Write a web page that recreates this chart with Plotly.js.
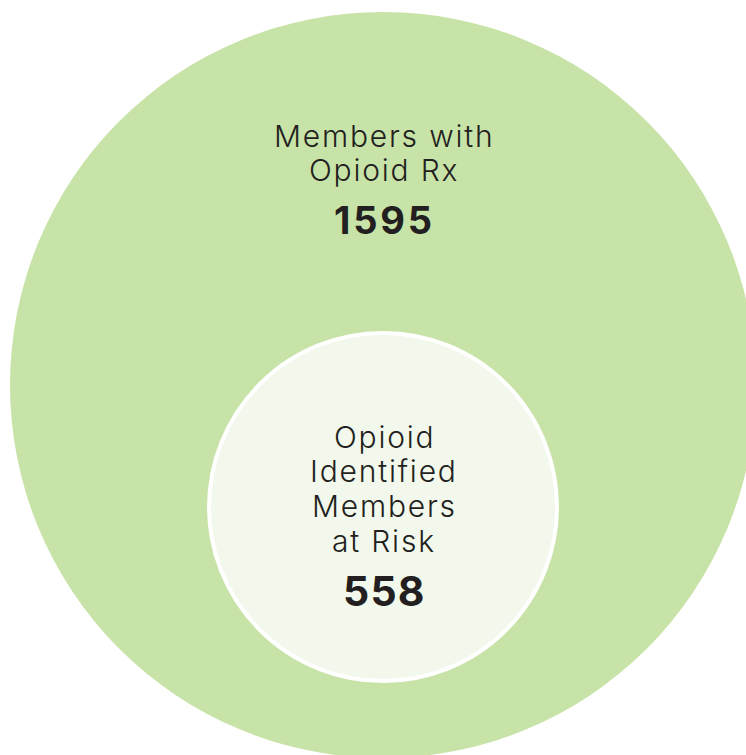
<!DOCTYPE html>
<html>
<head>
<meta charset="utf-8">
<script src="https://cdn.plot.ly/plotly-3.0.1.min.js"></script>
<style>
html,body{margin:0;padding:0;background:#fff;}
#chart{width:746px;height:755px;}
</style>
</head>
<body>
<div id="chart"></div>
<script>
// Data
var groups = ["Members with Opioid Rx", "Opioid Identified Members at Risk"];
var values = [1595, 558];
var outerLines = ["Members with", "Opioid Rx"];
var innerLines = ["Opioid", "Identified", "Members", "at Risk"];

var W = 746, H = 755;
var outer = {cx: 383, cy: 385, r: 373};
var inner = {cx: 383, cy: 507, r: 174};

var fontFam = "Inter, 'Open Sans', sans-serif";
var textColor = "#231f20";

function spaced(t, px){ return '<span style="letter-spacing:' + px + 'px">' + t + '</span>'; }

var annotations = [];
var outerY = [136, 170];
outerLines.forEach(function(t, i){
  annotations.push({x: outer.cx + 1, y: outerY[i], xref: 'x', yref: 'y', text: spaced(t, 1.8), showarrow: false,
    xanchor: 'center', yanchor: 'middle', font: {family: fontFam, size: 30, color: textColor, weight: 300}});
});
annotations.push({x: outer.cx + 1, y: 220, xref: 'x', yref: 'y', text: spaced(String(values[0]), 2.8), showarrow: false,
  xanchor: 'center', yanchor: 'middle', font: {family: fontFam, size: 38, color: textColor, weight: 700}});

var innerY = [437, 471, 506, 541];
innerLines.forEach(function(t, i){
  annotations.push({x: inner.cx + 1, y: innerY[i], xref: 'x', yref: 'y', text: spaced(t, 1.8), showarrow: false,
    xanchor: 'center', yanchor: 'middle', font: {family: fontFam, size: 30, color: textColor, weight: 300}});
});
annotations.push({x: inner.cx + 1, y: 591, xref: 'x', yref: 'y', text: spaced(String(values[1]), 1.2), showarrow: false,
  xanchor: 'center', yanchor: 'middle', font: {family: fontFam, size: 41, color: textColor, weight: 700}});

var layout = {
  width: W, height: H,
  margin: {l: 0, r: 0, t: 0, b: 0},
  paper_bgcolor: '#ffffff', plot_bgcolor: '#ffffff',
  showlegend: false,
  xaxis: {range: [0, W], visible: false, fixedrange: true},
  yaxis: {range: [H, 0], visible: false, fixedrange: true},
  shapes: [
    {type: 'circle', xref: 'x', yref: 'y', x0: outer.cx - outer.r, x1: outer.cx + outer.r,
     y0: outer.cy - outer.r, y1: outer.cy + outer.r, fillcolor: '#c8e3a7', line: {width: 0}, layer: 'below'},
    {type: 'circle', xref: 'x', yref: 'y', x0: inner.cx - inner.r, x1: inner.cx + inner.r,
     y0: inner.cy - inner.r, y1: inner.cy + inner.r, fillcolor: '#f2f8ec', line: {color: '#ffffff', width: 4}, layer: 'below'}
  ],
  annotations: annotations
};

Plotly.newPlot('chart', [{x: [], y: [], type: 'scatter', hoverinfo: 'skip'}], layout, {staticPlot: true, displayModeBar: false});
</script>
</body>
</html>
